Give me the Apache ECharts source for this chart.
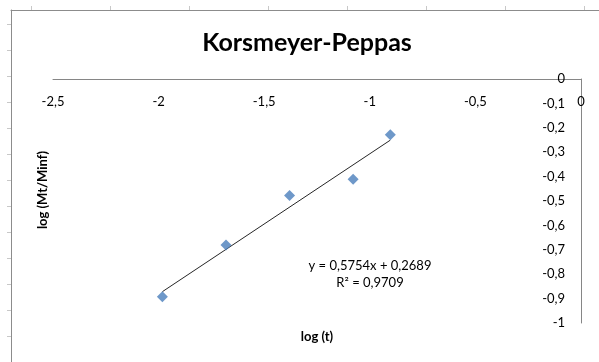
<!DOCTYPE html>
<html>
<head>
<meta charset="utf-8">
<script src="https://cdn.jsdelivr.net/npm/echarts@6/dist/echarts.min.js"></script>
<style>
  html, body { margin: 0; padding: 0; background: #fff; }
  #chart { width: 599px; height: 362px; }
</style>
</head>
<body>
<div id="chart"></div>
<script>
// Release data: log of time vs log of fractional release
const logT = [-1.982, -1.681, -1.380, -1.079, -0.903];
const logRelease = [-0.892, -0.680, -0.477, -0.411, -0.228];

// Linear trendline coefficients (y = slope * x + intercept)
const slope = [0.5754];
const intercept = [0.2689];
const rSquared = [0.9709];

// Axis tick labels
const xTicks = [-2.5, -2, -1.5, -1, -0.5, 0];
const yTicks = [0, -0.1, -0.2, -0.3, -0.4, -0.5, -0.6, -0.7, -0.8, -0.9, -1];

// Frame ticks of the surrounding sheet area
const frameTicksX = [20, 99, 178, 257, 336, 415, 494, 573];
const frameTicksY = [14, 40, 66, 92, 118, 144, 170, 196, 222, 248, 274, 300, 326];

const FONT = 'Lato, "Open Sans", sans-serif';
const comma = v => String(v).replace('.', ',');

const points = logT.map((x, i) => [x, logRelease[i]]);
const xMin = Math.min(...logT), xMax = Math.max(...logT);
const trend = [xMin, xMax].map(x => [x, slope[0] * x + intercept[0]]);

const chart = echarts.init(document.getElementById('chart'), null, { renderer: 'canvas' });

chart.setOption({
  animation: false,
  backgroundColor: '#ffffff',
  grid: [
    { left: 53, right: 18, top: 79, bottom: 39 },
    { left: 11, right: 0, top: 10, bottom: 0 }
  ],
  xAxis: [
    {
      gridIndex: 0, type: 'value', position: 'top',
      min: -2.5, max: 0, interval: 0.5,
      axisLine: { onZero: false, lineStyle: { color: '#868686', width: 1 } },
      axisTick: { show: false },
      splitLine: { show: false },
      axisLabel: {
        inside: true, margin: 16, color: '#000', fontSize: 13, fontFamily: FONT,
        customValues: xTicks, formatter: comma
      }
    },
    {
      gridIndex: 1, type: 'value', position: 'top',
      min: 0, max: 588,
      axisLine: { onZero: false, lineStyle: { color: '#8c8c8c', width: 1 } },
      axisTick: { show: true, length: 4, customValues: frameTicksX, lineStyle: { color: '#c8c8c8' } },
      axisLabel: { show: false },
      splitLine: { show: false }
    }
  ],
  yAxis: [
    {
      gridIndex: 0, type: 'value', position: 'right',
      min: -1, max: 0, interval: 0.1,
      axisLine: { onZero: false, lineStyle: { color: '#868686', width: 1 } },
      axisTick: { show: false },
      splitLine: { show: false },
      axisLabel: {
        inside: true, margin: 16, color: '#000', fontSize: 13, fontFamily: FONT,
        customValues: yTicks, formatter: comma
      }
    },
    {
      gridIndex: 1, type: 'value', position: 'left', inverse: true,
      min: 0, max: 352,
      axisLine: { onZero: false, lineStyle: { color: '#8c8c8c', width: 1 } },
      axisTick: { show: true, length: 4, customValues: frameTicksY, lineStyle: { color: '#c8c8c8' } },
      axisLabel: { show: false },
      splitLine: { show: false }
    }
  ],
  series: [
    {
      type: 'line', xAxisIndex: 0, yAxisIndex: 0,
      data: trend, showSymbol: false, symbol: 'none',
      lineStyle: { color: '#262626', width: 1 },
      z: 2
    },
    {
      type: 'scatter', xAxisIndex: 0, yAxisIndex: 0,
      data: points, symbol: 'diamond', symbolSize: [11, 11],
      itemStyle: { color: '#4a7ebb' },
      z: 3
    }
  ],
  graphic: [
    {
      type: 'text', x: 307, y: 43,
      style: { text: 'Korsmeyer-Peppas', font: 'bold 25px ' + FONT, fill: '#000', align: 'center', verticalAlign: 'middle' }
    },
    {
      type: 'text', x: 317, y: 337,
      style: { text: 'log (t)', font: 'bold 13px ' + FONT, fill: '#000', align: 'center', verticalAlign: 'middle' }
    },
    {
      type: 'text', x: 43, y: 190, rotation: Math.PI / 2,
      style: { text: 'log (Mt/Minf)', font: 'bold 13px ' + FONT, fill: '#000', align: 'center', verticalAlign: 'middle' }
    },
    {
      type: 'text', x: 370, y: 266,
      style: {
        text: 'y = ' + comma(slope[0]) + 'x + ' + comma(intercept[0]),
        font: '13px ' + FONT, fill: '#000', align: 'center', verticalAlign: 'middle'
      }
    },
    {
      type: 'text', x: 370, y: 283,
      style: {
        text: 'R² = ' + comma(rSquared[0]),
        font: '13px ' + FONT, fill: '#000', align: 'center', verticalAlign: 'middle'
      }
    }
  ]
});
</script>
</body>
</html>
